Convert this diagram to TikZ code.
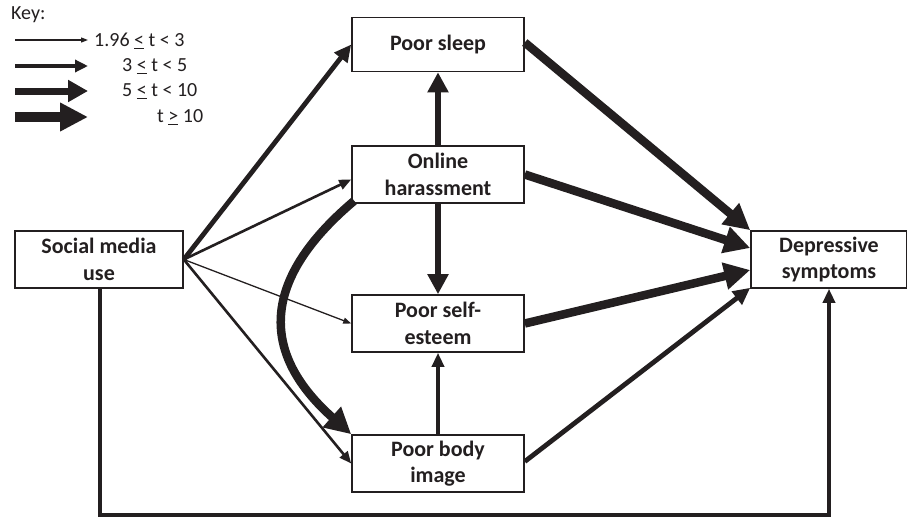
\documentclass[tikz,border=0pt]{standalone}
\usepackage{fontspec}
\setmainfont{Carlito}
\usetikzlibrary{arrows.meta}
\definecolor{ink}{HTML}{231F20}
\tikzset{
  box/.style={draw=ink, line width=1.6pt, minimum height=57pt, inner sep=2pt,
    align=center, font=\bfseries\fontsize{22}{26.5}\selectfont, text=ink},
  keytxt/.style={anchor=west, inner sep=0pt, font=\fontsize{20}{22}\selectfont, text=ink},
  aw1/.style={draw=ink, line width=1.3pt, -{Triangle[length=8pt,width=6pt]}},
  aw2/.style={draw=ink, line width=2.6pt, -{Triangle[length=12pt,width=10pt]}},
  aw3/.style={draw=ink, line width=3.4pt, -{Triangle[length=14pt,width=12pt]}},
  aw4/.style={draw=ink, line width=4.8pt, -{Triangle[length=17pt,width=16pt]}},
  aw5/.style={draw=ink, line width=5.5pt, -{Triangle[length=20pt,width=20pt]}},
  aw6/.style={draw=ink, line width=8.5pt, -{Triangle[length=26pt,width=26pt]}},
  kw1/.style={draw=ink, line width=1.2pt, -{Triangle[length=7pt,width=5pt]}},
  kw2/.style={draw=ink, line width=3.5pt, -{Triangle[length=13pt,width=12pt]}},
  kw3/.style={draw=ink, line width=7pt, -{Triangle[length=20pt,width=21pt]}},
  kw4/.style={draw=ink, line width=10pt, -{Triangle[length=28pt,width=27pt]}},
}
\begin{document}
\begin{tikzpicture}[x=1pt,y=-1pt]
\useasboundingbox (0,0) rectangle (907,517);
% key
\node[keytxt] (key) at (11,15) {Key:};
\coordinate (k1s) at (15,40); \coordinate (k1e) at (88,40);
\coordinate (k2s) at (15,66); \coordinate (k2e) at (88,66);
\coordinate (k3s) at (15,91); \coordinate (k3e) at (88,91);
\coordinate (k4s) at (15,117); \coordinate (k4e) at (88,117);
\draw[kw1] (k1s) -- (k1e);
\draw[kw2] (k2s) -- (k2e);
\draw[kw3] (k3s) -- (k3e);
\draw[kw4] (k4s) -- (k4e);
\node[keytxt] (kt1) at (94,41) {1.96 \underline{<} t < 3};
\node[keytxt] (kt2) at (122,66) {3 \underline{<} t < 5};
\node[keytxt] (kt3) at (122,91) {5 \underline{<} t < 10};
\node[keytxt] (kt4) at (157,117) {t \underline{>} 10};
% boxes
\node[box, minimum width=172pt, minimum height=54pt] (sleep) at (438,44.5) {Poor sleep};
\node[box, minimum width=172pt] (oh) at (438,174.5) {Online\\harassment};
\node[box, minimum width=172pt] (se) at (438,323.5) {Poor self-\\esteem};
\node[box, minimum width=172pt] (bi) at (438,463.5) {Poor body\\image};
\node[box, minimum width=168pt] (sm) at (99,259.5) {Social media\\use};
\node[box, minimum width=156pt] (dep) at (829,259.5) {Depressive\\symptoms};
% social media fan
\draw[aw4] (sm.east) -- (sleep.west);
\draw[aw2] (sm.east) -- ([yshift=-5pt]oh.west);
\draw[aw1] (sm.east) -- (se.west);
\draw[aw2] (sm.east) -- (bi.west);
% vertical
\draw[aw5] (oh.north) -- (sleep.south);
\draw[aw5] (oh.south) -- (se.north);
\draw[aw3] (bi.north) -- (se.south);
% curve
\draw[aw6] ([xshift=3pt,yshift=3pt]oh.south west) .. controls (258,282) and (262,355) .. (bi.north west);
% to depressive
\draw[aw6] ([yshift=2pt]sleep.east) -- (dep.north west);
\draw[aw6] (oh.east) -- ([yshift=11.5pt]dep.west);
\draw[aw6] (se.east) -- ([yshift=-10.5pt]dep.west);
\draw[aw4] ([yshift=2pt]bi.east) -- ([yshift=1pt]dep.south west);
% bottom path
\coordinate (bot) at (100,515);
\draw[aw3] ([xshift=1pt]sm.south) -- ([xshift=1pt]sm.south |- bot) -| (dep.south);
\end{tikzpicture}
\end{document}
